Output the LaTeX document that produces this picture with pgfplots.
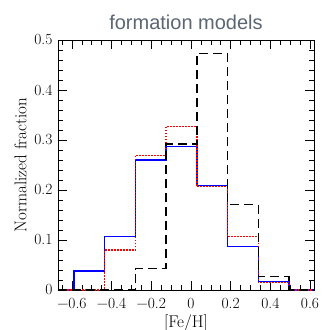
\documentclass[border=0pt]{standalone}
\usepackage{pgfplots}
\pgfplotsset{compat=1.18}
\usepackage{fontspec}
\newfontfamily\titlefont{Liberation Sans}
\definecolor{titlegray}{HTML}{5B6675}
\begin{document}
\begin{tikzpicture}
\path[use as bounding box] (-58pt,-40pt) rectangle (269pt,290pt);
\begin{axis}[
  scale only axis, width=256pt, height=250pt,
  xmin=-0.67, xmax=0.62, ymin=0, ymax=0.5,
  xtick={-0.6,-0.4,...,0.6}, minor xtick={-0.65,-0.6,...,0.6},
  ytick={0,0.1,...,0.5}, minor ytick={0,0.02,...,0.5},
  xticklabels={−0.6,−0.4,−0.2,0,0.2,0.4,0.6},
  yticklabels={0,0.1,0.2,0.3,0.4,0.5},
  /pgf/number format/assume math mode=true,
  tick align=inside, ticks=both,
  major tick length=9pt, minor tick length=5pt,
  xtick pos=both, ytick pos=both,
  tick label style={font=\fontsize{15.5}{17}\selectfont},
  xticklabel style={yshift=-5pt},
  yticklabel style={xshift=-2pt},
  label style={font=\fontsize{17}{19}\selectfont},
  xlabel={[Fe/H]}, ylabel={Normalized fraction},
  xlabel style={yshift=1pt},
  ylabel style={yshift=1pt},
  title={\titlefont\color{titlegray}formation models},
  title style={font=\fontsize{20}{23}\selectfont, yshift=1pt},
  axis line style={line width=0.7pt},
  every tick/.style={line width=0.6pt},
]
\addplot[blue, line width=1.5pt, const plot] coordinates {
 (-0.67,0) (-0.59,0.038) (-0.435,0.107) (-0.28,0.26) (-0.125,0.287)
 (0.03,0.209) (0.185,0.087) (0.34,0.017) (0.495,0) (0.62,0)};
\addplot[red, line width=1.6pt, dash pattern=on 1.6pt off 1.4pt, const plot] coordinates {
 (-0.67,0) (-0.59,0) (-0.435,0.08) (-0.28,0.269) (-0.125,0.327)
 (0.03,0.207) (0.185,0.107) (0.34,0.015) (0.495,0) (0.62,0)};
\addplot[black, line width=1.5pt, dash pattern=on 9pt off 5pt, const plot] coordinates {
 (-0.67,0) (-0.59,0) (-0.435,0) (-0.28,0.043) (-0.125,0.292)
 (0.03,0.473) (0.185,0.171) (0.34,0.027) (0.495,0) (0.62,0)};
\end{axis}
\end{tikzpicture}
\end{document}
